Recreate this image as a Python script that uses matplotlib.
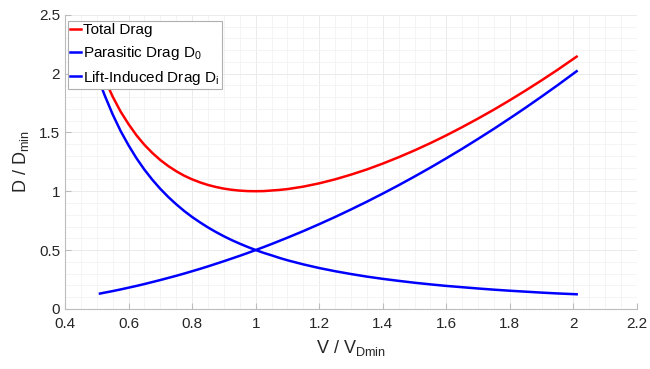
import matplotlib.pyplot as plt
from matplotlib.ticker import MultipleLocator

plt.rcParams['font.family'] = ['Liberation Sans', 'DejaVu Sans']
plt.rcParams['mathtext.fontset'] = 'custom'
plt.rcParams['mathtext.rm'] = 'Liberation Sans'
plt.rcParams['mathtext.it'] = 'Liberation Sans'

# speed ratio V / V_Dmin
v = [0.51, 0.525, 0.55, 0.575, 0.60, 0.625, 0.65, 0.675, 0.70, 0.725, 0.75,
     0.775, 0.80, 0.825, 0.85, 0.875, 0.90, 0.925, 0.95, 0.975, 1.00, 1.025,
     1.05, 1.075, 1.10, 1.15, 1.20, 1.25, 1.30, 1.35, 1.40, 1.45, 1.50, 1.55,
     1.60, 1.65, 1.70, 1.75, 1.80, 1.85, 1.90, 1.95, 2.01]

# drag ratios D / D_min
total_drag = [2.05, 1.952, 1.804, 1.677, 1.57, 1.475, 1.394, 1.325, 1.265, 1.214, 1.17,
              1.132, 1.101, 1.075, 1.053, 1.036, 1.022, 1.012, 1.005, 1.001, 1.00, 1.001,
              1.006, 1.011, 1.018, 1.039, 1.067, 1.101, 1.141, 1.185, 1.235, 1.289, 1.347, 1.409,
              1.475, 1.545, 1.618, 1.694, 1.774, 1.857, 1.943, 2.032, 2.144]
parasitic = [0.13, 0.138, 0.151, 0.165, 0.18, 0.195, 0.211, 0.228, 0.245, 0.263, 0.281,
             0.30, 0.32, 0.34, 0.361, 0.383, 0.405, 0.428, 0.451, 0.475, 0.50, 0.525,
             0.551, 0.578, 0.605, 0.661, 0.72, 0.781, 0.845, 0.911, 0.98, 1.051, 1.125, 1.201,
             1.28, 1.361, 1.445, 1.531, 1.62, 1.711, 1.805, 1.901, 2.02]
induced = [1.92, 1.814, 1.653, 1.512, 1.39, 1.28, 1.183, 1.097, 1.02, 0.951, 0.889,
           0.832, 0.781, 0.735, 0.692, 0.653, 0.617, 0.584, 0.554, 0.526, 0.50, 0.476,
           0.455, 0.433, 0.413, 0.378, 0.347, 0.32, 0.296, 0.274, 0.255, 0.238, 0.222, 0.208,
           0.195, 0.184, 0.173, 0.163, 0.154, 0.146, 0.138, 0.131, 0.124]

fig = plt.figure(figsize=(6.5, 3.69), dpi=100)
ax = fig.add_axes([0.1, 0.163, 0.88, 0.797])

ax.plot(v, total_drag, color='#ff0000', lw=1.8, label='Total Drag')
ax.plot(v, parasitic, color='#0000ff', lw=1.8, label='Parasitic Drag D$_\\mathrm{0}$')
ax.plot(v, induced, color='#0000ff', lw=1.8, label='Lift-Induced Drag D$_\\mathrm{i}$')

ax.set_xlim(0.4, 2.2)
ax.set_ylim(0, 2.5)
ax.xaxis.set_major_locator(MultipleLocator(0.2))
ax.xaxis.set_minor_locator(MultipleLocator(0.05))
ax.yaxis.set_major_locator(MultipleLocator(0.5))
ax.yaxis.set_minor_locator(MultipleLocator(0.1))
ax.set_xticklabels([f'{t:g}' for t in ax.get_xticks()])
ax.set_yticklabels([f'{t:g}' for t in ax.get_yticks()])

# matlab-ish look
ax.grid(which='major', color='#ebebeb', lw=0.7)
ax.grid(which='minor', color='#f3f3f3', lw=0.6)
ax.set_axisbelow(True)
for s in ['top', 'right']:
    ax.spines[s].set_visible(False)
for s in ['left', 'bottom']:
    ax.spines[s].set_color('#bcbcbc')
ax.tick_params(which='major', direction='in', length=4, color='#bcbcbc',
               labelsize=11, labelcolor='#262626')
ax.tick_params(axis='x', pad=6)
ax.tick_params(which='minor', length=0)

ax.set_xlabel('V / V$_{\\mathrm{Dmin}}$', fontsize=13, color='#262626', labelpad=5)
ax.set_ylabel('D / D$_{\\mathrm{min}}$', fontsize=13, color='#262626', labelpad=6)

leg = ax.legend(loc='upper left', bbox_to_anchor=(0.0, 0.99), fontsize=11,
                handlelength=0.7, handletextpad=0.15, borderaxespad=0.2,
                borderpad=0.15, labelspacing=0.45, fancybox=False, framealpha=1)
leg.get_frame().set_edgecolor('#b0b0b0')
leg.get_frame().set_linewidth(0.8)

plt.savefig('out.png')
